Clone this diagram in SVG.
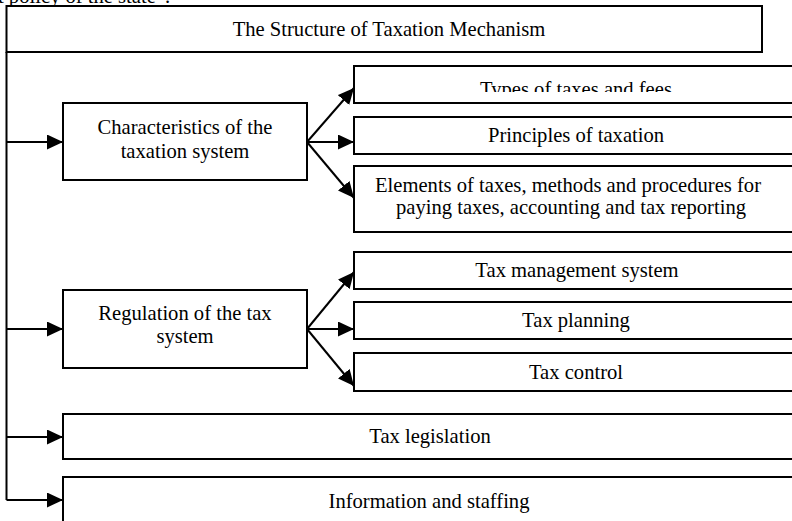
<svg xmlns="http://www.w3.org/2000/svg" width="792" height="521" viewBox="0 0 792 521">
  <style>
    .box { fill: #ffffff; stroke: #000000; stroke-width: 2; }
    .txt { font-family: "Liberation Serif", "Times New Roman", serif; font-size: 20.6px; fill: #000000; text-anchor: middle; }
    .lead { text-anchor: start; }
    .wire { fill: none; stroke: #000000; stroke-width: 2; }
  </style>
  <defs>
    <marker id="head" markerUnits="userSpaceOnUse" markerWidth="16" markerHeight="15" refX="16" refY="7.5" orient="auto">
      <path d="M0,0 L16,7.5 L0,15 z" fill="#000000"/>
    </marker>
    <clipPath id="typesClip">
      <rect x="355" y="67" width="440" height="25"/>
    </clipPath>
  </defs>

  <rect width="792" height="521" fill="#ffffff"/>

  <!-- running text cut off at the top edge -->
  <text class="txt lead" x="-2" y="3">t policy of the state”.</text>

  <!-- connectors: trunk, branches and fans -->
  <g id="connectors">
    <path class="wire" d="M6.5,52 V500"/>
    <path class="wire" d="M6.5,142 H63" marker-end="url(#head)"/>
    <path class="wire" d="M6.5,329 H63" marker-end="url(#head)"/>
    <path class="wire" d="M6.5,437 H63" marker-end="url(#head)"/>
    <path class="wire" d="M6.5,500 H63" marker-end="url(#head)"/>
    <path class="wire" d="M307,142 L354,88" marker-end="url(#head)"/>
    <path class="wire" d="M307,142 H354" marker-end="url(#head)"/>
    <path class="wire" d="M307,142 L354,198" marker-end="url(#head)"/>
    <path class="wire" d="M307,329 L354,272" marker-end="url(#head)"/>
    <path class="wire" d="M307,329 H354" marker-end="url(#head)"/>
    <path class="wire" d="M307,329 L354,386" marker-end="url(#head)"/>
  </g>

  <g id="structure">
    <rect class="box" x="6.5" y="6" width="755.5" height="46"/>
    <text class="txt" x="389" y="36">The Structure of Taxation Mechanism</text>
  </g>

  <g id="characteristics">
    <rect class="box" x="63" y="103" width="244" height="77"/>
    <text class="txt" x="185" y="134">Characteristics of the</text>
    <text class="txt" x="185" y="158">taxation system</text>
  </g>

  <g id="types">
    <rect class="box" x="354" y="66" width="446" height="37"/>
    <text class="txt" x="576" y="96" clip-path="url(#typesClip)">Types of taxes and fees</text>
  </g>

  <g id="principles">
    <rect class="box" x="354" y="117" width="446" height="37"/>
    <text class="txt" x="576" y="142">Principles of taxation</text>
  </g>

  <g id="elements">
    <rect class="box" x="354" y="166" width="446" height="66"/>
    <text class="txt" x="568" y="192">Elements of taxes, methods and procedures for</text>
    <text class="txt" x="571" y="214">paying taxes, accounting and tax reporting</text>
  </g>

  <g id="regulation">
    <rect class="box" x="63" y="290" width="244" height="78"/>
    <text class="txt" x="185" y="320">Regulation of the tax</text>
    <text class="txt" x="185" y="343">system</text>
  </g>

  <g id="management">
    <rect class="box" x="354" y="252" width="446" height="37"/>
    <text class="txt" x="577" y="277">Tax management system</text>
  </g>

  <g id="planning">
    <rect class="box" x="354" y="302" width="446" height="37"/>
    <text class="txt" x="576" y="327">Tax planning</text>
  </g>

  <g id="control">
    <rect class="box" x="354" y="353" width="446" height="38"/>
    <text class="txt" x="576" y="379">Tax control</text>
  </g>

  <g id="legislation">
    <rect class="box" x="63" y="414" width="740" height="45"/>
    <text class="txt" x="430" y="443">Tax legislation</text>
  </g>

  <g id="staffing">
    <rect class="box" x="63" y="477" width="740" height="60"/>
    <text class="txt" x="429" y="508">Information and staffing</text>
  </g>
</svg>
